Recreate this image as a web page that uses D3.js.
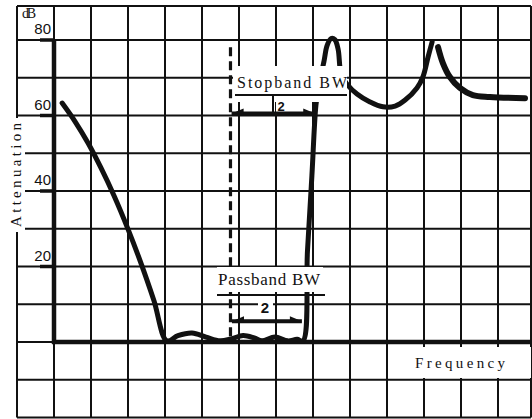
<!DOCTYPE html>
<html><head><meta charset="utf-8">
<script src="https://cdn.jsdelivr.net/npm/d3@7"></script>
<style>html,body{margin:0;padding:0;background:#fff;}svg{display:block;}</style>
</head><body><svg id="c" width="532" height="419"></svg>
<script>
// ---- data (frequency in grid units, attenuation in dB) ----
const yTickValues = [20, 40, 60, 80];
const yTickLabels = ["20", "40", "60", "80"];
const gridFreq = [-1, 0, 1, 2, 3, 4, 5, 6, 7, 8, 9, 10, 11, 12];
const gridDb = [-20, -10, 0, 10, 20, 30, 40, 50, 60, 70, 80];
const curveA_freq = [0.22, 0.57, 0.92, 1.27, 1.62, 2.0, 2.35, 2.70, 3.05,
  3.35, 3.73, 4.11, 4.49, 4.81, 5.11, 5.41, 5.62, 5.97, 6.32, 6.57, 6.73,
  6.85, 6.97, 7.08, 7.16, 7.30, 7.38, 7.49, 7.59, 7.68, 7.76, 7.92,
  8.19, 8.54, 8.89, 9.22, 9.49, 9.81, 9.97, 10.11, 10.22];
const curveA_db = [63.3, 58.4, 52.7, 46.1, 38.8, 29.9, 20.9, 11.0, 0.3,
  1.7, 2.4, 1.3, 0.3, 0.9, 1.7, 1.06, 0.3, 1.3, 0.3, 0.7, 0.3,
  24.0, 44.0, 62.8, 68.0, 74.5, 78.5, 80.4, 80.1, 77.5, 71.0, 68.3,
  65.7, 63.6, 62.3, 62.5, 64.1, 67.3, 70.2, 75.5, 79.5];
const curveB_freq = [10.38, 10.51, 10.70, 10.97, 11.32, 11.78, 12.73];
const curveB_db = [78.1, 73.9, 70.2, 67.3, 65.4, 64.9, 64.6];
const passEdgeFreq = 4.77;      // dashed line
const stopLevelDb = 60.5;       // stopband BW measured level
const stopRange = [4.8, 7.06];
const passLevelDb = 5.5;
const passRange = [4.81, 6.7];
const bwValues = ["2", "2"];

const svg = d3.select("#c");
const x = d3.scaleLinear().domain([0, 1]).range([54, 91]);
const y = d3.scaleLinear().domain([0, 80]).range([342, 40]);
const INK = "#111";
const X0 = x(-1), X1 = 531, Y0 = 6, Y1 = y(-20);

// grid
const g = svg.append("g").attr("stroke", INK).attr("stroke-width", 2);
g.selectAll("line.v").data(gridFreq).join("line").attr("class", "v")
  .attr("x1", d => x(d)).attr("x2", d => x(d)).attr("y1", Y0).attr("y2", Y1);
g.selectAll("line.h").data(gridDb).join("line").attr("class", "h")
  .attr("x1", X0).attr("x2", X1).attr("y1", d => y(d)).attr("y2", d => y(d));
g.append("line").attr("x1", X0).attr("x2", X1).attr("y1", Y0).attr("y2", Y0);
g.append("line").attr("x1", X1).attr("x2", X1).attr("y1", Y0).attr("y2", Y1);

// axes (thick)
svg.append("line").attr("x1", x(0)).attr("x2", x(0)).attr("y1", y(80) - 1).attr("y2", y(0) + 2)
  .attr("stroke", INK).attr("stroke-width", 4.5);
svg.append("line").attr("x1", x(0) - 2).attr("x2", X1).attr("y1", y(0)).attr("y2", y(0))
  .attr("stroke", INK).attr("stroke-width", 4.5);
svg.selectAll("line.tk").data(yTickValues).join("line").attr("class", "tk")
  .attr("x1", x(0) - 14).attr("x2", x(0)).attr("y1", d => y(d)).attr("y2", d => y(d))
  .attr("stroke", INK).attr("stroke-width", 3.5);
svg.selectAll("text.tl").data(yTickValues).join("text").attr("class", "tl")
  .attr("x", x(0) - 3).attr("y", d => y(d) - 6).attr("text-anchor", "end")
  .attr("font-family", "Liberation Sans, Arial, sans-serif").attr("font-size", 15)
  .attr("fill", INK).text((d, i) => yTickLabels[i]);

// curves
const line = d3.line().x(d => x(d[0])).y(d => y(d[1])).curve(d3.curveCatmullRom.alpha(0.5));
const A = curveA_freq.map((f, i) => [f, curveA_db[i]]);
const B = curveB_freq.map((f, i) => [f, curveB_db[i]]);
svg.append("path").attr("d", line(A)).attr("fill", "none").attr("stroke", INK)
  .attr("stroke-width", 5).attr("stroke-linejoin", "round").attr("stroke-linecap", "round");
svg.append("path").attr("d", line(B)).attr("fill", "none").attr("stroke", INK)
  .attr("stroke-width", 6).attr("stroke-linejoin", "round").attr("stroke-linecap", "round");

// dashed passband edge
svg.append("line").attr("x1", x(passEdgeFreq)).attr("x2", x(passEdgeFreq))
  .attr("y1", y(78.1)).attr("y2", y(0)).attr("stroke", INK).attr("stroke-width", 3.2)
  .attr("stroke-dasharray", "9,5");

// white label boxes
const box = (x0, y0, x1, y1) => svg.append("rect").attr("x", x0).attr("y", y0)
  .attr("width", x1 - x0).attr("height", y1 - y0).attr("fill", "#fff");
box(233, 66, 347, 102);   // Stopband BW
box(217, 267, 323, 292);  // Passband BW
box(5, 118, 25, 232);     // Attenuation
box(392, 347, 531, 378);  // Frequency
box(276, 99, 289, 112);   // stop "2"
box(258, 299, 273, 314);  // pass "2"

const serif = "Liberation Serif, Times New Roman, serif";
const txt = (s, tx, ty, size, len) => {
  const t = svg.append("text").attr("x", tx).attr("y", ty).attr("font-family", serif)
    .attr("font-size", size).attr("fill", INK).text(s);
  if (len) t.attr("textLength", len).attr("lengthAdjust", "spacing");
  return t;
};
txt("dB", 22, 18, 14, 14);
txt("Stopband BW", 237, 88, 16, 110);
txt("Passband BW", 218, 285, 17, 102);
txt("Frequency", 415, 368, 15, 90);
svg.append("text").attr("transform", "translate(21,175) rotate(-90)")
  .attr("text-anchor", "middle").attr("font-family", serif).attr("font-size", 15)
  .attr("fill", INK).attr("textLength", 104).attr("lengthAdjust", "spacing").text("Attenuation");
svg.append("text").attr("x", 281).attr("y", 111).attr("text-anchor", "middle")
  .attr("font-family", "Liberation Sans, Arial, sans-serif").attr("font-weight", "bold")
  .attr("font-size", 13).attr("fill", INK).text(bwValues[0]);
svg.append("text").attr("x", 265).attr("y", 313).attr("text-anchor", "middle")
  .attr("font-family", "Liberation Sans, Arial, sans-serif").attr("font-weight", "bold")
  .attr("font-size", 15).attr("fill", INK).text(bwValues[1]);

// dimension lines
svg.append("line").attr("x1", 235).attr("x2", 347).attr("y1", 95).attr("y2", 95)
  .attr("stroke", INK).attr("stroke-width", 2);
svg.append("line").attr("x1", 273).attr("x2", 273).attr("y1", 95).attr("y2", 115)
  .attr("stroke", INK).attr("stroke-width", 2);
svg.append("line").attr("x1", 217).attr("x2", 325).attr("y1", 295).attr("y2", 295)
  .attr("stroke", INK).attr("stroke-width", 2);

function bw(level, range) {
  const yy = y(level), a = x(range[0]), b = x(range[1]);
  svg.append("line").attr("x1", a).attr("x2", b).attr("y1", yy).attr("y2", yy)
    .attr("stroke", INK).attr("stroke-width", 4);
  svg.append("path").attr("d", `M${a},${yy}L${a + 12},${yy - 5}L${a + 12},${yy + 1}Z`).attr("fill", INK);
  svg.append("path").attr("d", `M${b},${yy}L${b - 12},${yy - 5}L${b - 12},${yy + 1}Z`).attr("fill", INK);
}
bw(stopLevelDb, stopRange);
bw(passLevelDb, passRange);
</script></body></html>
